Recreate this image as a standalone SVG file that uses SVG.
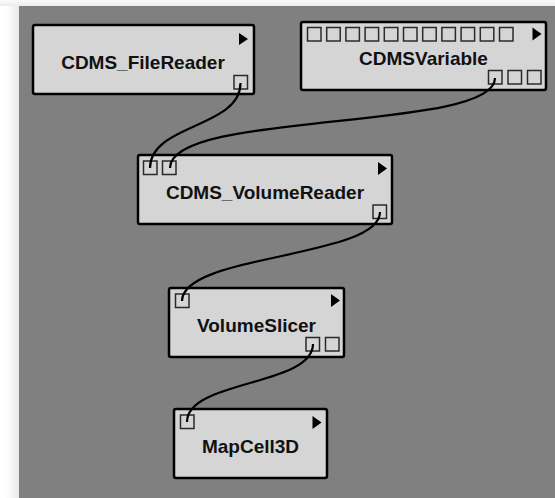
<svg xmlns="http://www.w3.org/2000/svg" width="555" height="498" viewBox="0 0 555 498">
<defs>
<linearGradient id="shadeL" x1="0" y1="0" x2="1" y2="0">
<stop offset="0" stop-color="#ffffff"/>
<stop offset="1" stop-color="#e9e9e9"/>
</linearGradient>
<linearGradient id="shadeT" x1="0" y1="0" x2="0" y2="1">
<stop offset="0" stop-color="#fafafa"/>
<stop offset="1" stop-color="#ececec"/>
</linearGradient>
</defs>
<style>
.node{fill:#d5d5d5;stroke:#000;stroke-width:2.5}
.port{fill:#d5d5d5;stroke:#2a2a2a;stroke-width:1.5}
.tri{fill:#000}
.lbl{font-family:"Liberation Sans",Arial,sans-serif;font-weight:bold;font-size:19px;fill:#111;text-anchor:middle}
.conn{fill:none;stroke:#000;stroke-width:2.2}
</style>
<rect x="0" y="0" width="555" height="498" fill="#ffffff"/>
<rect x="0" y="0" width="555" height="6" fill="url(#shadeT)"/>
<rect x="6" y="6" width="13" height="492" fill="url(#shadeL)"/>
<rect x="19" y="6" width="536" height="492" fill="#808080"/>

<g id="CDMS_FileReader">
<rect class="node" x="33" y="25" width="221" height="69" rx="2"/>
<polygon class="tri" points="239,33 248,39 239,45"/>
<rect class="port" x="234" y="75.5" width="13.5" height="13.5"/>
<text class="lbl" x="143" y="69">CDMS_FileReader</text>
</g>

<g id="CDMSVariable">
<rect class="node" x="301" y="22" width="245" height="68" rx="2"/>
<rect class="port" x="307.5" y="27.5" width="13.5" height="13.5"/>
<rect class="port" x="326.7" y="27.5" width="13.5" height="13.5"/>
<rect class="port" x="345.9" y="27.5" width="13.5" height="13.5"/>
<rect class="port" x="365.1" y="27.5" width="13.5" height="13.5"/>
<rect class="port" x="384.3" y="27.5" width="13.5" height="13.5"/>
<rect class="port" x="403.5" y="27.5" width="13.5" height="13.5"/>
<rect class="port" x="422.7" y="27.5" width="13.5" height="13.5"/>
<rect class="port" x="441.9" y="27.5" width="13.5" height="13.5"/>
<rect class="port" x="461.1" y="27.5" width="13.5" height="13.5"/>
<rect class="port" x="480.3" y="27.5" width="13.5" height="13.5"/>
<rect class="port" x="499.5" y="27.5" width="13.5" height="13.5"/>
<polygon class="tri" points="532.5,27.5 541.5,34 532.5,40.5"/>
<rect class="port" x="488.5" y="70.5" width="13.5" height="13.5"/>
<rect class="port" x="508" y="70.5" width="13.5" height="13.5"/>
<rect class="port" x="527.5" y="70.5" width="13.5" height="13.5"/>
<text class="lbl" x="423.5" y="64.5">CDMSVariable</text>
</g>

<g id="CDMS_VolumeReader">
<rect class="node" x="138" y="155" width="254" height="69" rx="2"/>
<rect class="port" x="143.5" y="161" width="13.5" height="13.5"/>
<rect class="port" x="162.5" y="161" width="13.5" height="13.5"/>
<polygon class="tri" points="378,162 387,168.5 378,175"/>
<rect class="port" x="373" y="205" width="13.5" height="13.5"/>
<text class="lbl" x="265" y="199">CDMS_VolumeReader</text>
</g>

<g id="VolumeSlicer">
<rect class="node" x="169" y="288" width="175" height="69" rx="2"/>
<rect class="port" x="175.5" y="294" width="13.5" height="13.5"/>
<polygon class="tri" points="331,294 340,300.5 331,307"/>
<rect class="port" x="306" y="337.5" width="13.5" height="13.5"/>
<rect class="port" x="325.5" y="337.5" width="13.5" height="13.5"/>
<text class="lbl" x="256.5" y="332">VolumeSlicer</text>
</g>

<g id="MapCell3D">
<rect class="node" x="174" y="409" width="153" height="69" rx="2"/>
<rect class="port" x="180.5" y="415" width="13.5" height="13.5"/>
<polygon class="tri" points="312.5,416 321.5,422.5 312.5,429"/>
<text class="lbl" x="250.5" y="453">MapCell3D</text>
</g>

<g id="connectors">
<path class="conn" d="M240.5,83 C240.5,128 150,124 150,168"/>
<path class="conn" d="M495,78 C495,132 170,110 170,168"/>
<path class="conn" d="M380,212 C380,258 182,254 182,301"/>
<path class="conn" d="M313,344 C313,386 187,380 187,422"/>
</g>
</svg>
